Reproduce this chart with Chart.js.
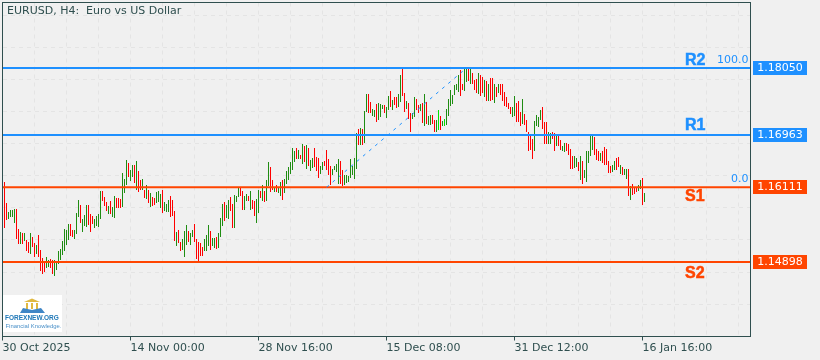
<!DOCTYPE html>
<html>
<head>
<meta charset="utf-8">
<title>EURUSD, H4</title>
<script src="https://cdn.jsdelivr.net/npm/chart.js@4/dist/chart.umd.min.js"></script>
<style>
    html, body { margin: 0; padding: 0; background: #f0f0f0; }
    canvas { display: block; }
</style>
</head>
<body>
<canvas id="chart" width="820" height="360"></canvas>
<script>
// Bar highs
const barHighs = [
    1.16198,1.15856,1.15710,1.15743,1.15743,1.15759,1.15759,1.15434,1.15385,1.15369,
    1.15369,1.15255,1.15223,1.15369,1.15304,1.15206,1.15174,1.15336,1.15093,1.14963,
    1.14898,1.14979,1.14930,1.14946,1.14930,1.14930,1.14914,1.15076,1.15109,1.15239,
    1.15434,1.15418,1.15515,1.15515,1.15418,1.15418,1.15694,1.15905,1.15824,1.15596,
    1.15661,1.15824,1.15824,1.15678,1.15645,1.15596,1.15645,1.15678,1.16051,1.16051,
    1.15954,1.15873,1.15808,1.15889,1.15791,1.15970,1.15938,1.15938,1.15921,1.16344,
    1.16246,1.16555,1.16506,1.16393,1.16474,1.16474,1.16539,1.16376,1.16230,1.16246,
    1.16068,1.16149,1.16068,1.16019,1.15954,1.15938,1.16035,1.16051,1.16003,1.16068,
    1.15873,1.15840,1.15905,1.15970,1.15905,1.15726,1.15385,1.15418,1.15223,1.15271,
    1.15401,1.15499,1.15401,1.15369,1.15418,1.15515,1.15271,1.15223,1.15206,1.15141,
    1.15271,1.15336,1.15499,1.15401,1.15288,1.15288,1.15304,1.15369,1.15613,1.15840,
    1.15873,1.15824,1.15905,1.15954,1.15840,1.15986,1.15970,1.16116,1.16116,1.16051,
    1.15970,1.16003,1.15970,1.16051,1.15905,1.15889,1.15921,1.16068,1.16051,1.16149,
    1.16051,1.16230,1.16523,1.16441,1.16230,1.16100,1.16149,1.16116,1.16198,1.16230,
    1.16246,1.16376,1.16441,1.16523,1.16750,1.16701,1.16750,1.16718,1.16636,1.16815,
    1.16783,1.16799,1.16750,1.16555,1.16588,1.16750,1.16604,1.16588,1.16458,1.16523,
    1.16539,1.16718,1.16571,1.16458,1.16409,1.16458,1.16490,1.16571,1.16539,1.16393,
    1.16311,1.16311,1.16295,1.16571,1.16458,1.16588,1.16994,1.17059,1.17075,1.17059,
    1.17351,1.17628,1.17628,1.17498,1.17384,1.17368,1.17465,1.17481,1.17465,1.17449,
    1.17449,1.17416,1.17595,1.17676,1.17530,1.17579,1.17579,1.17628,1.17936,1.18034,
    1.17644,1.17514,1.17481,1.17319,1.17319,1.17579,1.17546,1.17449,1.17465,1.17481,
    1.17628,1.17498,1.17270,1.17286,1.17286,1.17205,1.17205,1.17368,1.17270,1.17189,
    1.17221,1.17384,1.17546,1.17693,1.17611,1.17774,1.17790,1.17936,1.18018,1.17790,
    1.18034,1.18034,1.18034,1.18034,1.17969,1.17855,1.17871,1.17969,1.17936,1.17904,
    1.17855,1.17839,1.17790,1.17888,1.17888,1.17790,1.17741,1.17790,1.17790,1.17790,
    1.17660,1.17579,1.17481,1.17416,1.17416,1.17595,1.17481,1.17514,1.17335,1.17546,
    1.17303,1.17205,1.17010,1.16961,1.16896,1.17189,1.17286,1.17254,1.17368,1.17416,
    1.17173,1.17173,1.17010,1.16994,1.17010,1.16994,1.16961,1.16961,1.16880,1.16783,
    1.16831,1.16831,1.16815,1.16734,1.16620,1.16620,1.16588,1.16523,1.16620,1.16539,
    1.16393,1.16701,1.16701,1.16961,1.16961,1.16929,1.16734,1.16701,1.16669,1.16701,
    1.16766,1.16734,1.16539,1.16458,1.16474,1.16539,1.16588,1.16604,1.16474,1.16441,
    1.16409,1.16409,1.16409,1.16133,1.16165,1.16116,1.16100,1.16149,1.16230,1.16263,1.16019
];

// Bar lows
const barLows = [
    1.15450,1.15580,1.15596,1.15629,1.15629,1.15531,1.15271,1.15190,1.15190,1.15190,
    1.15239,1.15076,1.15044,1.15028,1.15141,1.14979,1.15028,1.14979,1.14751,1.14703,
    1.14735,1.14800,1.14816,1.14800,1.14703,1.14670,1.14768,1.14865,1.14930,1.15011,
    1.15076,1.15174,1.15255,1.15320,1.15304,1.15271,1.15353,1.15629,1.15531,1.15385,
    1.15483,1.15466,1.15499,1.15385,1.15515,1.15450,1.15483,1.15466,1.15596,1.15889,
    1.15808,1.15726,1.15678,1.15678,1.15629,1.15613,1.15775,1.15775,1.15775,1.15791,
    1.16019,1.16149,1.16279,1.16214,1.16279,1.16181,1.16068,1.16035,1.16068,1.16068,
    1.15938,1.15921,1.15856,1.15791,1.15808,1.15824,1.15856,1.15873,1.15775,1.15694,
    1.15726,1.15710,1.15710,1.15629,1.15645,1.15239,1.15158,1.15206,1.15076,1.15093,
    1.14979,1.15174,1.15223,1.15174,1.15304,1.15223,1.14946,1.14914,1.14995,1.14995,
    1.15076,1.15076,1.15158,1.15093,1.15158,1.15125,1.15109,1.15125,1.15304,1.15483,
    1.15564,1.15613,1.15596,1.15726,1.15450,1.15450,1.15873,1.15954,1.15970,1.15743,
    1.15743,1.15889,1.15889,1.15743,1.15759,1.15645,1.15531,1.15694,1.15938,1.15889,
    1.15873,1.15889,1.16133,1.16035,1.16068,1.16035,1.16035,1.16019,1.15970,1.15905,
    1.16019,1.16165,1.16230,1.16328,1.16393,1.16523,1.16571,1.16571,1.16571,1.16490,
    1.16523,1.16409,1.16458,1.16376,1.16425,1.16441,1.16376,1.16263,1.16328,1.16393,
    1.16458,1.16393,1.16311,1.16149,1.16311,1.16393,1.16360,1.16165,1.16165,1.16133,
    1.16149,1.16181,1.16198,1.16263,1.16311,1.16246,1.16409,1.16799,1.16799,1.16799,
    1.16831,1.17335,1.17319,1.17319,1.17270,1.17254,1.17173,1.17205,1.17254,1.17384,
    1.17319,1.17238,1.17368,1.17416,1.17368,1.17449,1.17400,1.17416,1.17498,1.17595,
    1.17335,1.17384,1.17221,1.17010,1.17221,1.17254,1.17368,1.17319,1.17351,1.17156,
    1.17108,1.17140,1.17124,1.17124,1.17140,1.17010,1.17010,1.17043,1.17043,1.17108,
    1.17108,1.17124,1.17270,1.17433,1.17465,1.17611,1.17693,1.17660,1.17595,1.17693,
    1.17676,1.17823,1.17839,1.17790,1.17790,1.17693,1.17644,1.17628,1.17595,1.17644,
    1.17579,1.17514,1.17514,1.17514,1.17530,1.17481,1.17579,1.17644,1.17611,1.17514,
    1.17433,1.17416,1.17384,1.17303,1.17254,1.17270,1.17173,1.17173,1.17108,1.17140,
    1.17124,1.17010,1.16701,1.16718,1.16571,1.16701,1.17108,1.17091,1.17205,1.17059,
    1.16815,1.16815,1.16815,1.16815,1.16896,1.16701,1.16783,1.16783,1.16718,1.16701,
    1.16685,1.16701,1.16636,1.16409,1.16409,1.16425,1.16441,1.16376,1.16230,1.16165,
    1.16263,1.16198,1.16506,1.16620,1.16718,1.16636,1.16555,1.16539,1.16539,1.16506,
    1.16474,1.16474,1.16344,1.16344,1.16360,1.16393,1.16393,1.16441,1.16328,1.16311,
    1.16311,1.16246,1.15970,1.15905,1.15986,1.16003,1.16035,1.16051,1.16084,1.15824,1.15873
];

// u = up bar, d = down bar, n = bright up bar
const barDirections = [
    'dduuuuddud', 'uddudduddd', 'duudduuuuu', 'uuudduuudu', 'uuddduuuud',
    'dduduudddu', 'uuduududdu', 'dududduuud', 'uuuddduddu', 'uuduuddddd',
    'uuuduuduuu', 'duudduuudd', 'uududduudu', 'duudduduud', 'uuuuuududu',
    'duduuddduu', 'dddduuuudd', 'uuuuuuudud', 'uudduuduuu', 'duududduud',
    'dudduuddud', 'uduuddundu', 'nuuuuuuudd', 'uududddudd', 'ududdududd',
    'dddduudddu', 'ddddduuuud', 'dduudduddu', 'udddduudud', 'uuuuudddud',
    'dddduuddud', 'uududdduudu'
].join('').split('');

// Support and resistance levels
const levelNames = ['R2', 'R1', 'S1', 'S2'];
const levelPrices = [1.18050, 1.16963, 1.16111, 1.14898];

// Fibonacci line ends and captions
const fiboBars = [161, 231];
const fiboPrices = [1.16111, 1.18050];
const fiboLabels = ['0.0', '100.0'];

// Time axis
const timeTickBars = [-1, 63, 127, 191, 255, 319];
const timeTickLabels = ['30 Oct 2025', '14 Nov 00:00', '28 Nov 16:00', '15 Dec 08:00', '31 Dec 12:00', '16 Jan 16:00'];
const gridBars = [-1, 15, 31, 47, 63, 79, 95, 111, 127, 143, 159, 175, 191, 207, 223, 239, 255, 271, 287, 303, 319, 335, 351, 367];

// Price grid (no labels on the axis in this chart)
const gridPrices = [1.18895, 1.18375, 1.17855, 1.17335, 1.16815, 1.16295, 1.15775, 1.15255, 1.14735, 1.14215];

const titleText = 'EURUSD, H4:  Euro vs US Dollar';

const AXIS_COLOR = '#2f4f4f';
const GRID_COLOR = '#e4e4e4';
const BLUE = '#1e90ff';
const ORANGE = '#ff4500';
const barColors = { u: '#1f8c12', d: '#ff0000', n: '#00e600' };
const X_MIN = -1, X_MAX = 373;

const levelColor = (i) => levelNames[i][0] === 'R' ? BLUE : ORANGE;

// Title, level captions, price boxes, frame and logo
const overlayPlugin = {
    id: 'overlay',
    beforeDraw(chart) {
        const { ctx, width, height } = chart;
        ctx.save();
        ctx.fillStyle = '#f0f0f0';
        ctx.fillRect(0, 0, width, height);
        ctx.restore();
    },
    afterDraw(chart) {
        const { ctx, chartArea: area, scales: { y } } = chart;
        ctx.save();

        // frame
        ctx.strokeStyle = AXIS_COLOR;
        ctx.lineWidth = 1;
        ctx.strokeRect(area.left, area.top, area.right - area.left, area.bottom - area.top);

        // title
        ctx.fillStyle = AXIS_COLOR;
        ctx.font = "11px 'DejaVu Sans'";
        ctx.textAlign = 'left';
        ctx.textBaseline = 'middle';
        ctx.fillText(titleText, 7, 11.5);

        // level names and price boxes
        const nameOffsets = [-7.5, -9, 10, 12];
        levelNames.forEach((name, i) => {
            const py = Math.round(y.getPixelForValue(levelPrices[i]));
            ctx.fillStyle = levelColor(i);
            ctx.strokeStyle = levelColor(i);
            ctx.lineWidth = 0.5;
            ctx.font = "bold 16px 'Liberation Sans'";
            ctx.textAlign = 'left';
            ctx.fillText(name, 685, py + nameOffsets[i]);
            ctx.strokeText(name, 685, py + nameOffsets[i]);

            ctx.fillRect(753, py - 7, 54, 14);
            ctx.fillStyle = '#ffffff';
            ctx.font = "11px 'DejaVu Sans'";
            ctx.textAlign = 'center';
            ctx.fillText(levelPrices[i].toFixed(5), 780, py + 0.5);
        });

        // fibo captions
        ctx.fillStyle = BLUE;
        ctx.font = "11px 'DejaVu Sans'";
        ctx.textAlign = 'right';
        fiboLabels.forEach((label, i) => {
            ctx.fillText(label, 748.5, y.getPixelForValue(fiboPrices[i]) - 8);
        });

        // logo
        ctx.fillStyle = '#ffffff';
        ctx.fillRect(3, 295, 59, 37);
        ctx.fillStyle = '#e0b840';
        ctx.beginPath();
        ctx.moveTo(24, 302);
        ctx.lineTo(32, 298.5);
        ctx.lineTo(40, 302);
        ctx.closePath();
        ctx.fill();
        ctx.fillRect(26, 303, 2, 6);
        ctx.fillRect(31, 303, 2, 6);
        ctx.fillRect(36, 303, 2, 6);
        ctx.fillStyle = '#3f86c6';
        ctx.beginPath();
        ctx.moveTo(20, 313);
        ctx.lineTo(23, 308);
        ctx.lineTo(32, 310);
        ctx.lineTo(41, 308);
        ctx.lineTo(45, 313);
        ctx.closePath();
        ctx.fill();
        ctx.fillStyle = '#1f78b8';
        ctx.font = "bold 6.5px 'Liberation Sans'";
        ctx.textAlign = 'left';
        ctx.fillText('FOREXNEW.ORG', 5, 318.5);
        ctx.fillStyle = '#4a90c8';
        ctx.font = "5.9px 'Liberation Sans'";
        ctx.fillText('Financial Knowledge.', 5.5, 326);

        ctx.restore();
    }
};

const barData = barHighs.map((high, i) => ({ x: i, y: [barLows[i], high] }));

const levelDatasets = levelPrices.map((price, i) => ({
    type: 'line',
    data: [{ x: X_MIN, y: price }, { x: X_MAX, y: price }],
    borderColor: levelColor(i),
    borderWidth: 2,
    pointRadius: 0,
    order: 1
}));

const fiboDataset = {
    type: 'line',
    data: fiboBars.map((bar, i) => ({ x: bar, y: fiboPrices[i] })),
    borderColor: BLUE,
    borderWidth: 1,
    borderDash: [3, 5],
    pointRadius: 0,
    order: 0
};

new Chart(document.getElementById('chart').getContext('2d'), {
    type: 'bar',
    data: {
        datasets: [{
            data: barData,
            backgroundColor: barDirections.map(dir => barColors[dir]),
            barThickness: 1,
            grouped: false,
            inflateAmount: 0,
            order: 2
        }, ...levelDatasets, fiboDataset]
    },
    options: {
        responsive: false,
        animation: false,
        events: [],
        layout: { padding: { left: 2.5, right: 69.5, top: 2.5, bottom: 0 } },
        plugins: { legend: { display: false }, tooltip: { enabled: false } },
        scales: {
            x: {
                type: 'linear',
                min: X_MIN,
                max: X_MAX,
                offset: false,
                afterBuildTicks: (axis) => {
                    axis.ticks = gridBars.map(value => ({ value }));
                },
                afterFit: (axis) => {
                    axis.height = 23.5;
                },
                border: { display: false, dash: [4, 4] },
                grid: {
                    offset: false,
                    color: GRID_COLOR,
                    tickBorderDash: [],
                    tickLength: 4,
                    tickColor: (ctx) => ctx.tick && timeTickBars.includes(ctx.tick.value) ? AXIS_COLOR : 'transparent'
                },
                ticks: {
                    autoSkip: false,
                    maxRotation: 0,
                    align: 'start',
                    padding: 1,
                    color: AXIS_COLOR,
                    font: { family: "'DejaVu Sans'", size: 11 },
                    callback: (value) => {
                        const i = timeTickBars.indexOf(value);
                        return i >= 0 ? timeTickLabels[i] : '';
                    }
                }
            },
            y: {
                type: 'linear',
                min: 1.13687,
                max: 1.19114,
                afterBuildTicks: (axis) => {
                    axis.ticks = gridPrices.map(value => ({ value }));
                },
                afterFit: (axis) => {
                    axis.width = 0;
                },
                border: { display: false, dash: [4, 4] },
                grid: {
                    color: GRID_COLOR,
                    drawTicks: false
                },
                ticks: { display: false }
            }
        }
    },
    plugins: [overlayPlugin]
});
</script>
</body>
</html>
